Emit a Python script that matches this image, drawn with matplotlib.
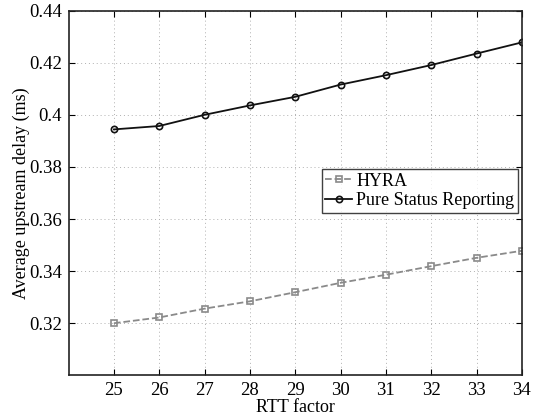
import matplotlib
matplotlib.use("Agg")
import matplotlib.pyplot as plt

rtt = [25, 26, 27, 28, 29, 30, 31, 32, 33, 34]
hyra = [0.3200, 0.3222, 0.3256, 0.3284, 0.3319, 0.3355, 0.3386, 0.3419, 0.3451, 0.3478]
pure = [0.3944, 0.3957, 0.4000, 0.4036, 0.4069, 0.4116, 0.4152, 0.4191, 0.4235, 0.4278]
yticks = [0.32, 0.34, 0.36, 0.38, 0.40, 0.42, 0.44]
ytick_labels = ["0.32", "0.34", "0.36", "0.38", "0.4", "0.42", "0.44"]

plt.rcParams['font.family'] = ['Liberation Serif', 'DejaVu Serif']
plt.rcParams['mathtext.fontset'] = 'stix'

fig = plt.figure(figsize=(5.38, 4.16), dpi=100)
ax = fig.add_axes([0.1275, 0.0978, 0.970 - 0.1275, 0.9745 - 0.0978])

ax.plot(rtt, hyra, linestyle='--', color='#8a8a8a', marker='s', markersize=4,
        markerfacecolor='none', markeredgecolor='#8a8a8a', markeredgewidth=1.2,
        linewidth=1.3, label='HYRA')
ax.plot(rtt, pure, linestyle='-', color='#111111', marker='o', markersize=4.5,
        markerfacecolor='none', markeredgecolor='#111111', markeredgewidth=1.2,
        linewidth=1.3, label='Pure Status Reporting')

ax.set_xlim(24, 34)
ax.set_ylim(0.30, 0.44)
ax.set_xticks(rtt)
ax.set_yticks(yticks)
ax.set_yticklabels(ytick_labels)
ax.tick_params(direction='in', top=True, right=True, labelsize=13.5, length=4, width=0.8, pad=5)
ax.grid(True, linestyle=(0, (1, 3)), color='#b0b0b0', linewidth=0.7)
for s in ax.spines.values():
    s.set_linewidth(1.2)
    s.set_color('#222222')

ax.set_xlabel('RTT factor', fontsize=13, labelpad=0)
ax.set_ylabel('Average upstream delay (ms)', fontsize=13, labelpad=-1)

leg = ax.legend(loc='upper right', bbox_to_anchor=(0.991, 0.566), borderaxespad=0,
                fontsize=13, frameon=True, fancybox=False, handlelength=1.5,
                handletextpad=0.2, borderpad=0.2, labelspacing=0.15)
leg.get_frame().set_edgecolor('#111111')
leg.get_frame().set_linewidth(1.0)

fig.savefig('out.png', dpi=100)
